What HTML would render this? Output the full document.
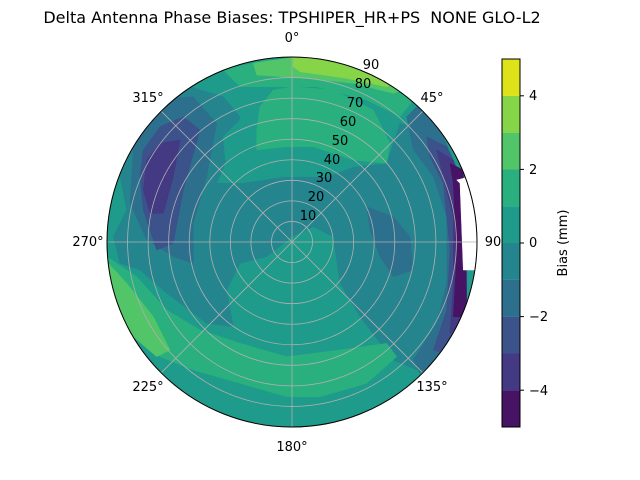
<!DOCTYPE html>
<html><head><meta charset="utf-8"><style>
html,body{margin:0;padding:0;background:#fff;}
svg{display:block;font-family:"DejaVu Sans","Liberation Sans",sans-serif;}
</style></head><body>
<svg id="s" width="640" height="480" viewBox="0 0 640 480" xmlns="http://www.w3.org/2000/svg">
<defs><clipPath id="cp"><circle cx="292" cy="242" r="185"/></clipPath></defs>
<g id="plot" clip-path="url(#cp)"></g>
<g id="grid" fill="none" stroke="#b0b0b0" stroke-width="0.8"></g>
<circle cx="292" cy="242" r="185" fill="none" stroke="#000" stroke-width="1"/>
<text x="292" y="23" font-size="16" text-anchor="middle">Delta Antenna Phase Biases: TPSHIPER_HR+PS&#160; NONE GLO-L2</text>
<g font-size="13" text-anchor="middle">
<text x="292" y="42">0°</text>
<text x="432" y="102">45°</text>
<text x="493" y="246">90</text>
<text x="432" y="391">135°</text>
<text x="292" y="451">180°</text>
<text x="148" y="391">225°</text>
<text x="88" y="246">270°</text>
<text x="148" y="102">315°</text>
<text x="308" y="220">10</text><text x="316" y="201">20</text><text x="324" y="182">30</text>
<text x="332" y="164">40</text><text x="340" y="145">50</text><text x="348" y="126">60</text>
<text x="355" y="107">70</text><text x="363" y="88">80</text><text x="371" y="69">90</text>
</g>
<g id="cb"></g>
<rect x="502" y="59" width="18" height="368" fill="none" stroke="#000" stroke-width="1"/>
<g font-size="13">
<line x1="520" y1="95.8" x2="524" y2="95.8" stroke="#000"/><text x="529" y="100">4</text>
<line x1="520" y1="169.4" x2="524" y2="169.4" stroke="#000"/><text x="529" y="174">2</text>
<line x1="520" y1="243" x2="524" y2="243" stroke="#000"/><text x="529" y="247">0</text>
<line x1="520" y1="316.6" x2="524" y2="316.6" stroke="#000"/><text x="529" y="321">−2</text>
<line x1="520" y1="390.2" x2="524" y2="390.2" stroke="#000"/><text x="529" y="395">−4</text>
<text transform="translate(567,243) rotate(-90)" text-anchor="middle">Bias (mm)</text>
</g>
</svg>
<script>
var C=["#471365","#443983","#3b528b","#2d708e","#25858e","#1e9b8a","#2ab07f","#52c569","#86d549","#dde318"];
var NS="http://www.w3.org/2000/svg",cx=292,cy=242,R=185;
function add(g,tag,at){var e=document.createElementNS(NS,tag);for(var k in at)e.setAttribute(k,at[k]);document.getElementById(g).appendChild(e);return e;}
function poly(col,a){var pts=[];for(var i=0;i<a.length;i+=2)pts.push((100+a[i]/3).toFixed(1)+","+(50+a[i+1]/3).toFixed(1));add("plot","polygon",{points:pts.join(" "),fill:col,"stroke":col,"stroke-width":"0.5","stroke-linejoin":"round"});}
add("plot","circle",{cx:cx,cy:cy,r:R,fill:C[5]});
poly(C[4],[150,140,270,110,370,140,420,200,380,330,350,400,430,400,560,380,680,380,760,350,860,340,900,220,960,240,1040,360,1090,500,1090,700,1030,880,950,960,880,930,780,800,720,700,700,560,640,530,576,560,500,620,420,640,380,720,400,830,320,820,200,730,120,660,60,640,40,560,80,480,60,380,100,240]);
poly(C[5],[430,130,470,60,580,40,700,60,860,130,900,200,860,340,760,350,680,380,560,380,470,380,380,370,370,260,430,200]);
poly(C[6],[470,240,480,170,520,120,580,110,700,120,820,180,870,280,860,340,760,330,640,290,560,290,470,300]);
poly(C[6],[370,60,500,30,700,30,940,150,900,200,800,150,650,110,500,110,420,110]);
poly(C[7],[460,40,580,22,750,40,910,120,880,130,760,100,620,85,470,75]);
poly(C[8],[580,22,700,30,880,100,860,110,740,85,600,65,580,50]);
poly(C[9],[790,40,880,90,860,95,800,70]);
// left purple
poly(C[3],[150,150,280,140,350,220,320,380,280,520,280,640,220,620,140,570,90,460,100,300]);
poly(C[2],[130,300,180,230,250,200,300,240,250,420,220,580,170,600,130,480,120,380]);
poly(C[1],[140,330,180,280,240,270,220,380,190,490,150,490,130,420]);
// right
poly(C[3],[800,470,880,500,930,560,940,660,880,680,840,620,810,540]);
poly(C[3],[920,200,960,160,1030,260,1100,420,1100,760,1040,900,960,970,940,930,1010,820,1040,700,1040,500,1000,380,940,300]);
poly(C[2],[980,260,1040,290,1100,420,1100,780,1030,910,1000,900,1040,780,1050,600,1030,400,990,320]);
poly(C[1],[1010,300,1060,330,1100,500,1100,800,1050,850,1060,700,1060,500,1030,380]);
poly(C[0],[1050,340,1090,360,1100,800,1060,800,1070,620,1060,400]);
poly("#ffffff",[1070,390,1110,380,1150,400,1150,660,1090,660,1080,400]);
// lower green
poly(C[6],[20,620,110,680,200,780,300,840,420,880,560,920,720,900,860,880,890,920,800,1000,660,1040,560,1040,420,1000,280,960,180,920,100,860,40,760]);
poly(C[7],[25,640,80,700,160,800,210,900,170,920,100,860,40,760]);
// grid
for(var i=1;i<=9;i++)add("grid","circle",{cx:cx,cy:cy,r:R*i/9});
for(var a=0;a<360;a+=45){var t=a*Math.PI/180;add("grid","line",{x1:cx,y1:cy,x2:cx+R*Math.sin(t),y2:cy-R*Math.cos(t)});}
for(var i=0;i<10;i++)add("cb","rect",{x:502,y:59+368*(9-i)/10,width:18,height:36.9,fill:C[i]});
</script>
</body></html>
